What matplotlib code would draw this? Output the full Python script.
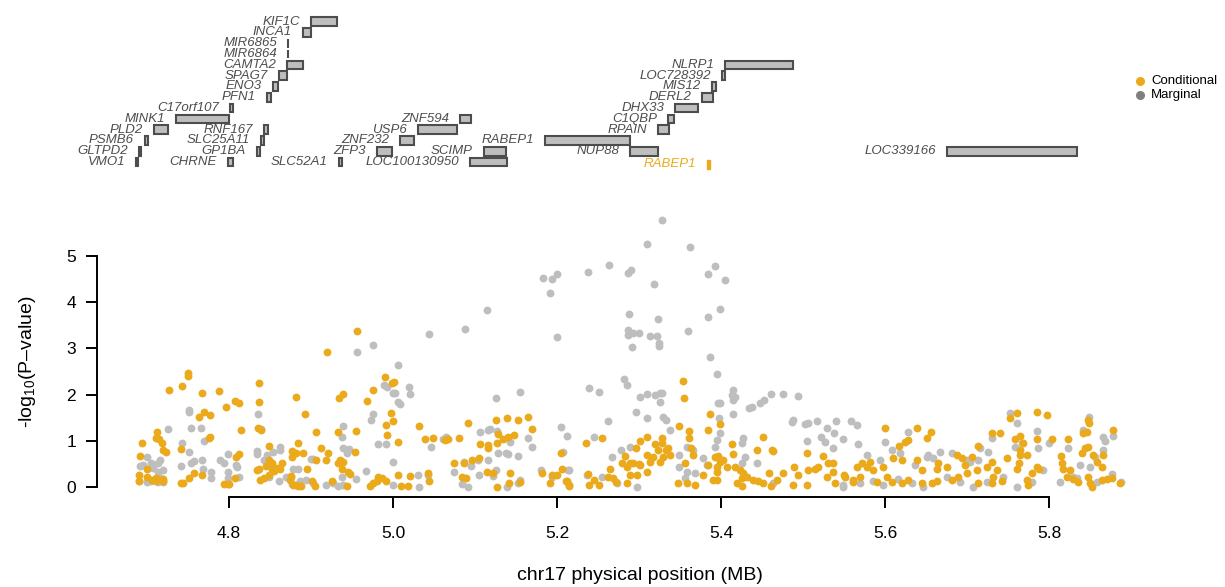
import matplotlib
matplotlib.use('Agg')
import matplotlib.pyplot as plt
import matplotlib.patches as mpatches
from matplotlib.lines import Line2D

plt.rcParams['font.family'] = ['Liberation Sans', 'DejaVu Sans']
plt.rcParams['mathtext.fontset'] = 'custom'
plt.rcParams['mathtext.rm'] = 'Liberation Sans'
plt.rcParams['mathtext.it'] = 'Liberation Sans:italic'

ORANGE = '#EBAA1B'
GRAY = '#BEBEBE'
DARK = '#4D4D4D'

# gene track (MB)
gene_names = ['KIF1C', 'INCA1', 'MIR6865', 'MIR6864', 'CAMTA2', 'NLRP1', 'SPAG7', 'LOC728392',
              'ENO3', 'MIS12', 'PFN1', 'DERL2', 'C17orf107', 'DHX33', 'MINK1', 'ZNF594', 'C1QBP',
              'PLD2', 'RNF167', 'USP6', 'RPAIN', 'PSMB6', 'SLC25A11', 'ZNF232', 'RABEP1',
              'GLTPD2', 'GP1BA', 'ZFP3', 'SCIMP', 'NUP88', 'LOC339166',
              'VMO1', 'CHRNE', 'SLC52A1', 'LOC100130950']
gene_start = [4.9000, 4.8902, 4.8718, 4.8718, 4.8707, 5.4049, 4.8610, 5.4012,
              4.8537, 5.3890, 4.8463, 5.3768, 4.8012, 5.3439, 4.7354, 5.0817, 5.3354,
              4.7085, 4.8427, 5.0305, 5.3232, 4.6976, 4.8390, 5.0085, 5.1854,
              4.6902, 4.8341, 4.9805, 5.1110, 5.2890, 5.6756,
              4.6866, 4.7988, 4.9341, 5.0939]
gene_end = [4.9317, 4.9000, 4.8722, 4.8722, 4.8902, 5.4878, 4.8707, 5.4049,
            4.8598, 5.3939, 4.8512, 5.3902, 4.8049, 5.3720, 4.8000, 5.0951, 5.3427,
            4.7256, 4.8476, 5.0780, 5.3366, 4.7012, 4.8427, 5.0256, 5.2890,
            4.6927, 4.8378, 4.9988, 5.1378, 5.3232, 5.8341,
            4.6890, 4.8049, 4.9378, 5.1390]
gene_row = [13, 12, 11, 10, 9, 9, 8, 8,
            7, 7, 6, 6, 5, 5, 4, 4, 4,
            3, 3, 3, 3, 2, 2, 2, 2,
            1, 1, 1, 1, 1, 1,
            0, 0, 0, 0]
lead_gene = 'RABEP1'
lead_start, lead_end = 5.3829, 5.3866

# marginal -log10(p)
marginal = [
    (4.726, 1.25), (4.7423, 0.96), (4.742, 0.46), (4.7508, 1.66), (4.751, 1.62), (4.7533, 1.27),
    (4.7662, 1.27), (4.7695, 1.00), (4.7516, 0.76), (4.754, 0.53), (4.757, 0.56), (4.767, 0.58),
    (4.7687, 0.38), (4.778, 0.33), (4.778, 0.19), (4.7894, 0.58), (4.7935, 0.53), (4.7992, 0.72),
    (4.799, 0.33), (4.7985, 0.19), (4.8085, 0.48), (4.81, 0.43), (4.8126, 0.22), (4.8338, 0.77),
    (4.834, 0.72), (4.8357, 1.59), (4.839, 1.25), (4.8426, 0.59), (4.846, 0.69), (4.854, 0.76),
    (4.862, 0.86), (4.862, 0.80), (4.8484, 0.22), (4.8614, 0.13), (4.869, 0.22), (4.875, 0.22),
    (4.6915, 0.45), (4.695, 0.48), (4.6996, 0.64), (4.705, 0.51), (4.707, 0.41), (4.713, 0.51),
    (4.716, 0.58), (4.719, 0.37), (4.6898, 0.12), (4.700, 0.10), (4.705, 0.13), (4.713, 0.10),
    (4.7195, 0.10), (4.713, 0.32), (4.716, 0.20),
    (5.1833, 4.52), (5.1935, 4.50), (5.2004, 4.61), (5.1915, 4.19), (5.2004, 3.25), (5.1142, 3.83),
    (5.0882, 3.43), (5.0439, 3.31), (4.976, 3.07), (4.956, 2.92), (5.0065, 2.63), (4.989, 2.21),
    (4.9923, 2.17), (5.0004, 2.04), (5.0024, 2.03), (5.019, 2.17), (5.0207, 2.01), (5.0065, 1.83),
    (5.0085, 1.80), (4.9752, 1.57), (4.9728, 1.45), (4.9386, 1.33), (4.9374, 1.09), (5.1256, 1.92),
    (5.1549, 2.06), (5.1061, 1.18), (5.1163, 1.23), (5.1183, 1.26), (5.1272, 1.22), (5.1427, 0.98),
    (5.2045, 1.29), (5.2126, 1.10), (5.0642, 1.09), (4.9813, 0.92), (4.9915, 0.92), (5.1285, 0.74),
    (5.1378, 0.74), (5.1407, 0.71), (5.152, 0.67), (5.165, 1.07), (5.170, 0.87), (5.207, 0.76),
    (5.0, 0.55), (4.9667, 0.35), (4.955, 0.17), (4.9028, 0.60), (4.8996, 0.60), (4.8846, 0.40),
    (4.8785, 0.40), (4.8744, 0.22), (4.9386, 0.84), (4.9467, 0.82), (4.9435, 0.74), (4.9374, 0.22),
    (4.9394, 0.04), (4.9333, 0.02), (4.9272, 0.08), (4.9183, 0.04), (4.9028, 0.08), (4.8939, 0.15),
    (4.8866, 0.14), (4.8764, 0.06), (5.0004, 0.04), (5.0321, 0.01), (5.0431, 0.26), (5.0309, 0.26),
    (5.0463, 0.87), (5.0614, 1.03), (5.0837, 0.06), (5.091, 0.01), (5.1049, 0.27), (5.1224, 0.24),
    (5.1256, 0.37), (5.1386, 0.01), (5.1528, 0.08), (5.1549, 0.15), (5.1805, 0.37), (5.1935, 0.22),
    (5.2138, 0.37), (5.0951, 0.45), (5.087, 0.55), (5.0748, 0.33), (5.104, 0.58), (5.1163, 0.58),
    (5.3277, 5.78), (5.3102, 5.27), (5.3626, 5.19), (5.2639, 4.80), (5.2383, 4.66), (5.2862, 4.64),
    (5.2907, 4.70), (5.3187, 4.39), (5.3838, 4.60), (5.3931, 4.78), (5.4045, 4.48), (5.2883, 3.74),
    (5.3236, 3.64), (5.2862, 3.40), (5.2862, 3.29), (5.2931, 3.33), (5.3004, 3.33), (5.2911, 3.04),
    (5.3134, 3.27), (5.3216, 3.27), (5.3248, 3.11), (5.3248, 3.06), (5.3838, 3.67), (5.3984, 3.85),
    (5.3602, 3.38), (5.3870, 2.82), (5.3948, 2.45), (5.2821, 2.34), (5.285, 2.21), (5.2391, 2.14),
    (5.2513, 2.06), (5.3013, 1.94), (5.3102, 2.01), (5.3195, 1.99), (5.3256, 2.03), (5.3277, 2.04),
    (5.3256, 1.85), (5.2964, 1.62), (5.3102, 1.49), (5.2626, 1.43), (5.3297, 1.52), (5.333, 1.46),
    (5.3378, 1.23), (5.3968, 1.81), (5.3988, 1.81), (5.398, 1.49), (5.4151, 2.11), (5.4171, 1.95),
    (5.4139, 1.99), (5.4151, 1.88), (5.4151, 1.59), (5.4346, 1.70), (5.4374, 1.74), (5.4476, 1.81),
    (5.4525, 1.88), (5.4606, 2.01), (5.4752, 2.01), (5.4944, 1.98), (5.4862, 1.41), (5.4874, 1.46),
    (5.5025, 1.36), (5.5065, 1.39), (5.5175, 1.43), (5.5289, 1.27), (5.5403, 1.43), (5.5586, 1.43),
    (5.5655, 1.34), (5.5667, 0.93), (5.522, 1.09), (5.5268, 0.98), (5.5362, 0.84), (5.5382, 1.16),
    (5.5492, 1.03), (5.5053, 0.99), (5.2151, 0.37), (5.2456, 1.09), (5.2675, 0.66), (5.2777, 0.80),
    (5.2891, 0.87), (5.3492, 0.69), (5.3492, 0.44), (5.3581, 0.87), (5.3655, 0.80), (5.3581, 0.33),
    (5.3683, 0.30), (5.3785, 0.62), (5.3927, 0.87), (5.3948, 1.02), (5.3988, 1.16), (5.4265, 1.05),
    (5.4252, 0.96), (5.4293, 0.66), (5.4444, 0.53), (5.2362, 0.26), (5.2545, 0.22), (5.2736, 0.09),
    (5.2972, 0.01), (5.3561, 0.19), (5.3826, 0.48), (5.4252, 0.51), (5.463, 0.08), (5.5492, 0.01),
    (5.6, 0.98), (5.6284, 1.20), (5.6081, 0.79), (5.6183, 0.73), (5.667, 0.76), (5.6813, 0.73),
    (5.6528, 0.69), (5.6581, 0.62), (5.7524, 1.61), (5.7606, 1.38), (5.7585, 0.86), (5.7667, 0.95),
    (5.7849, 1.22), (5.7870, 0.84), (5.8004, 0.96), (5.7301, 1.05), (5.726, 0.76), (5.7138, 0.58),
    (5.7036, 0.55), (5.8227, 0.84), (5.8418, 1.23), (5.8492, 1.51), (5.8662, 1.09), (5.8776, 1.10),
    (5.8683, 1.00), (5.8561, 0.66), (5.8662, 0.79), (5.85, 0.44), (5.8378, 0.48), (5.8134, 0.11),
    (5.8337, 0.19), (5.8878, 0.11), (5.8764, 0.28), (5.5492, 0.04), (5.5695, 0.08), (5.5858, 0.12),
    (5.598, 0.04), (5.6162, 0.17), (5.6325, 0.08), (5.6467, 0.01), (5.6752, 0.22), (5.6915, 0.11),
    (5.7077, 0.01), (5.724, 0.11), (5.7443, 0.22), (5.7606, 0.01), (5.7788, 0.11), (5.793, 0.37),
    (5.8297, 0.22), (5.8581, 0.11), (5.5776, 0.69), (5.5939, 0.58), (5.6366, 0.48), (5.6508, 0.66),
    (5.6996, 0.58), (5.7159, 0.84),
]

# conditional on the lead SNP
conditional = [
    (4.6935, 0.96), (4.6915, 0.67), (4.6906, 0.26), (4.6906, 0.14), (4.700, 0.40), (4.700, 0.22),
    (4.7057, 0.15), (4.7118, 1.18), (4.711, 1.06), (4.715, 1.04), (4.718, 0.96), (4.7195, 0.80),
    (4.723, 0.76), (4.711, 0.20), (4.711, 0.13), (4.7195, 0.18), (4.7195, 0.13), (4.7265, 2.10),
    (4.7423, 2.19), (4.7504, 2.47), (4.7504, 2.41), (4.7415, 0.82), (4.741, 0.08), (4.7435, 0.08),
    (4.7516, 0.19), (4.7573, 0.30), (4.767, 0.26), (4.7634, 1.52), (4.770, 1.63), (4.7768, 1.56),
    (4.7674, 2.04), (4.7768, 1.09), (4.775, 1.05), (4.7882, 2.08), (4.7963, 1.74), (4.8073, 1.87),
    (4.8126, 1.82), (4.8143, 1.23), (4.8085, 0.66), (4.812, 0.71), (4.8075, 0.19), (4.7943, 0.06),
    (4.7985, 0.06), (4.8, 0.06), (4.8366, 2.26), (4.837, 1.85), (4.8357, 1.27), (4.839, 1.23),
    (4.8484, 0.89), (4.837, 0.40), (4.845, 0.45), (4.849, 0.58), (4.852, 0.52), (4.858, 0.41),
    (4.855, 0.35), (4.853, 0.38), (4.849, 0.26), (4.843, 0.20), (4.838, 0.16), (4.834, 0.37),
    (4.8817, 1.95), (4.877, 0.78), (4.882, 0.74), (4.876, 0.23), (4.882, 0.05), (4.8845, 0.95),
    (4.956, 3.38), (4.9195, 2.92), (4.8927, 1.58), (4.9057, 1.20), (4.9337, 1.92), (4.9386, 2.01),
    (4.9325, 1.18), (4.9545, 1.22), (4.9537, 0.76), (4.9679, 1.86), (4.976, 2.11), (4.9907, 2.37),
    (4.9988, 2.26), (5.0016, 2.28), (4.9976, 1.61), (5.0004, 1.42), (4.9915, 1.34), (4.9927, 1.12),
    (5.0065, 0.97), (5.0321, 1.33), (5.0390, 1.03), (5.0492, 1.07), (5.0634, 1.02), (5.0675, 1.03),
    (5.0801, 1.06), (5.0919, 1.38), (5.1061, 0.93), (5.1163, 0.91), (5.1155, 0.84), (5.1256, 1.46),
    (5.1386, 1.50), (5.152, 1.45), (5.165, 1.52), (5.170, 1.26), (5.1277, 1.15), (5.1346, 1.04),
    (5.1407, 1.09), (5.148, 1.13), (5.1264, 0.95), (5.2049, 0.74), (4.8764, 0.66), (4.8907, 0.73),
    (4.9118, 0.84), (4.9211, 0.73), (4.9183, 0.58), (4.9354, 0.58), (4.9394, 0.55), (4.9333, 0.51),
    (4.9374, 0.40), (4.9455, 0.33), (4.9476, 0.28), (4.8955, 0.40), (4.9057, 0.58), (4.8622, 0.40),
    (4.8642, 0.51), (4.8744, 0.15), (4.8785, 0.04), (4.8846, 0.02), (4.8874, 0.02), (4.9008, 0.14),
    (4.9049, 0.02), (4.9252, 0.14), (4.9435, 0.02), (4.972, 0.02), (4.976, 0.08), (4.9821, 0.22),
    (4.9862, 0.19), (4.9915, 0.14), (4.981, 0.12), (5.0065, 0.26), (5.0098, 0.02), (5.0207, 0.24),
    (5.0187, 0.02), (5.0431, 0.30), (5.0443, 0.14), (5.0744, 0.51), (5.087, 0.51), (5.0837, 0.22),
    (5.089, 0.19), (5.0959, 0.58), (5.1053, 0.62), (5.1142, 0.33), (5.1224, 0.30), (5.1264, 0.01),
    (5.1427, 0.30), (5.1419, 0.08), (5.1549, 0.11), (5.1813, 0.31), (5.1935, 0.26), (5.1996, 0.26),
    (5.1915, 0.08), (5.2057, 0.40), (5.2110, 0.12), (5.2150, 0.02),
    (5.3533, 2.29), (5.3553, 1.92), (5.3866, 1.59), (5.3838, 1.23), (5.3988, 1.36), (5.3492, 1.31),
    (5.3606, 1.21), (5.3606, 1.05), (5.3630, 0.84), (5.3655, 0.69), (5.2354, 0.96), (5.2545, 1.06),
    (5.3013, 1.00), (5.3102, 1.09), (5.3195, 0.94), (5.3277, 1.07), (5.3277, 0.96), (5.3228, 0.80),
    (5.333, 0.80), (5.3358, 0.84), (5.3378, 0.69), (5.3297, 0.66), (5.3256, 0.55), (5.3175, 0.66),
    (5.3134, 0.55), (5.3102, 0.69), (5.3102, 0.33), (5.3013, 0.48), (5.2964, 0.84), (5.2830, 0.67),
    (5.2891, 0.51), (5.279, 0.51), (5.285, 0.44), (5.2923, 0.51), (5.2996, 0.50), (5.2891, 0.26),
    (5.285, 0.08), (5.2972, 0.25), (5.2647, 0.40), (5.2626, 0.22), (5.2687, 0.19), (5.272, 0.11),
    (5.2456, 0.15), (5.2517, 0.04), (5.2391, 0.04), (5.2383, 0.28), (5.2118, 0.12), (5.2151, 0.04),
    (5.3480, 0.08), (5.3561, 0.51), (5.3581, 0.09), (5.3683, 0.04), (5.3785, 0.26), (5.3846, 0.48),
    (5.3927, 0.66), (5.3968, 0.67), (5.3988, 0.55), (5.3948, 0.44), (5.4029, 0.58), (5.407, 0.44),
    (5.3948, 0.33), (5.3907, 0.15), (5.3948, 0.15), (5.4139, 0.94), (5.4143, 0.71), (5.4171, 0.44),
    (5.4232, 0.37), (5.4265, 0.30), (5.4252, 0.19), (5.4191, 0.08), (5.4252, 0.02), (5.4313, 0.21),
    (5.4394, 0.15), (5.4455, 0.12), (5.4516, 0.08), (5.4586, 0.30), (5.4606, 0.02), (5.468, 0.15),
    (5.4760, 0.30), (5.4890, 0.44), (5.4935, 0.26), (5.4874, 0.04), (5.5045, 0.74), (5.5065, 0.37),
    (5.5045, 0.04), (5.5147, 0.40), (5.5187, 0.44), (5.524, 0.67), (5.5301, 0.51), (5.5289, 0.22),
    (5.5362, 0.51), (5.537, 0.33), (5.539, 0.08), (5.5500, 0.26), (5.5606, 0.15), (5.5663, 0.44),
    (5.4444, 0.80), (5.4618, 0.80), (5.4516, 1.09), (5.4639, 0.77),
    (5.7606, 1.61), (5.7849, 1.62), (5.7979, 1.56), (5.7524, 1.49), (5.8480, 1.45), (5.8492, 1.38),
    (5.846, 1.20), (5.8418, 1.16), (5.8776, 1.23), (5.8032, 1.03), (5.8227, 1.04), (5.7301, 1.16),
    (5.7402, 1.16), (5.7585, 1.04), (5.7646, 1.10), (5.7679, 0.96), (5.7849, 1.03), (5.6, 1.27),
    (5.6386, 1.27), (5.6516, 1.07), (5.6557, 1.18), (5.6175, 0.89), (5.6244, 0.98), (5.6284, 1.02),
    (5.7138, 0.89), (5.7646, 0.80), (5.7646, 0.69), (5.7638, 0.51), (5.7606, 0.40), (5.7728, 0.69),
    (5.7882, 0.38), (5.7788, 0.30), (5.8146, 0.67), (5.8154, 0.51), (5.8175, 0.40), (5.8256, 0.37),
    (5.8215, 0.22), (5.8297, 0.17), (5.8358, 0.11), (5.848, 0.22), (5.85, 0.08), (5.8520, 0.01),
    (5.8642, 0.15), (5.8703, 0.17), (5.8764, 0.19), (5.8866, 0.09), (5.8439, 0.84), (5.848, 0.87),
    (5.8398, 0.73), (5.8541, 0.69), (5.8581, 0.55), (5.8662, 0.69), (5.8642, 0.44),
    (5.6874, 0.69), (5.6935, 0.62), (5.6976, 0.48), (5.7057, 0.66), (5.6996, 0.30), (5.6894, 0.22),
    (5.7118, 0.37), (5.724, 0.44), (5.7301, 0.55), (5.7362, 0.37), (5.7321, 0.22), (5.7423, 0.12),
    (5.7484, 0.62), (5.6752, 0.44), (5.663, 0.40), (5.665, 0.51), (5.6447, 0.37), (5.6447, 0.08),
    (5.663, 0.12), (5.6813, 0.15), (5.6386, 0.58), (5.6203, 0.58), (5.6101, 0.62), (5.5980, 0.44),
    (5.6020, 0.22), (5.5858, 0.37), (5.5817, 0.55), (5.5776, 0.44), (5.5715, 0.51), (5.5695, 0.22),
    (5.5614, 0.11), (5.5512, 0.22), (5.5898, 0.11), (5.6081, 0.11), (5.6203, 0.08), (5.6284, 0.15),
    (5.6569, 0.08), (5.7138, 0.08), (5.7301, 0.08), (5.7748, 0.04), (5.7728, 0.15), (5.7849, 0.44),
]

x_ticks = [4.8, 5.0, 5.2, 5.4, 5.6, 5.8]
y_ticks = [0, 1, 2, 3, 4, 5]

W, H = 1225, 587
fig = plt.figure(figsize=(W / 100, H / 100), dpi=100)


def px_box(x0, y0, x1, y1):
    return [x0 / W, 1 - y1 / H, (x1 - x0) / W, (y1 - y0) / H]


xlim = (4.639, 5.8988)

# association plot
ax = fig.add_axes(px_box(97, 215, 1130, 497))
mx, my = zip(*marginal)
cx, cy = zip(*conditional)
ax.scatter(mx, my, s=32, color=GRAY, lw=0, zorder=2)
ax.scatter(cx, cy, s=32, color=ORANGE, lw=0, zorder=3)
ax.set_xlim(*xlim)
ax.set_ylim(-0.2165, 5.887)
for side in ['top', 'right']:
    ax.spines[side].set_visible(False)
ax.spines['left'].set_bounds(0, 5)
ax.spines['bottom'].set_bounds(4.8, 5.8)
ax.spines['left'].set_linewidth(1.4)
ax.spines['bottom'].set_linewidth(1.4)
ax.set_xticks(x_ticks)
ax.set_xticklabels(['%.1f' % t for t in x_ticks])
ax.set_yticks(y_ticks)
ax.tick_params(axis='both', length=8, width=1.4, labelsize=12.5)
ax.tick_params(axis='x', pad=13)
ax.tick_params(axis='y', pad=7)

fig.text(27 / W, 1 - 362 / H, r'-log$_{10}$(P' + '\u2013' + 'value)', rotation=90,
         ha='center', va='center', fontsize=14)
fig.text(640 / W, 1 - 576 / H, 'chr17 physical position (MB)', ha='center', va='center',
         fontsize=14)

# gene track
gax = fig.add_axes(px_box(97, 5, 1130, 175))
gax.set_xlim(*xlim)
gax.set_ylim(-1.2, 14.54)
gax.axis('off')
for name, s, e, r in zip(gene_names, gene_start, gene_end, gene_row):
    gax.add_patch(mpatches.Rectangle((s, r - 0.4), e - s, 0.8, fc=GRAY, ec=DARK, lw=1.5))
    gax.text(s - 0.0134, r, name, ha='right', va='center', style='italic', fontsize=9.5,
             color=DARK)
gax.add_patch(mpatches.Rectangle((lead_start, -0.6), lead_end - lead_start, 0.8,
                                 fc=ORANGE, ec=ORANGE, lw=1))
gax.text(lead_start - 0.0134, -0.2, lead_gene, ha='right', va='center', style='italic',
         fontsize=9.5, color=ORANGE)

# legend
for y, col, lab in [(81, ORANGE, 'Conditional'), (95, '#808080', 'Marginal')]:
    fig.add_artist(Line2D([1140 / W], [1 - y / H], marker='o', ms=5.5, color=col, lw=0,
                          transform=fig.transFigure))
    fig.text(1151 / W, 1 - y / H, lab, ha='left', va='center', fontsize=9.5)

fig.savefig('out.png', dpi=100)
